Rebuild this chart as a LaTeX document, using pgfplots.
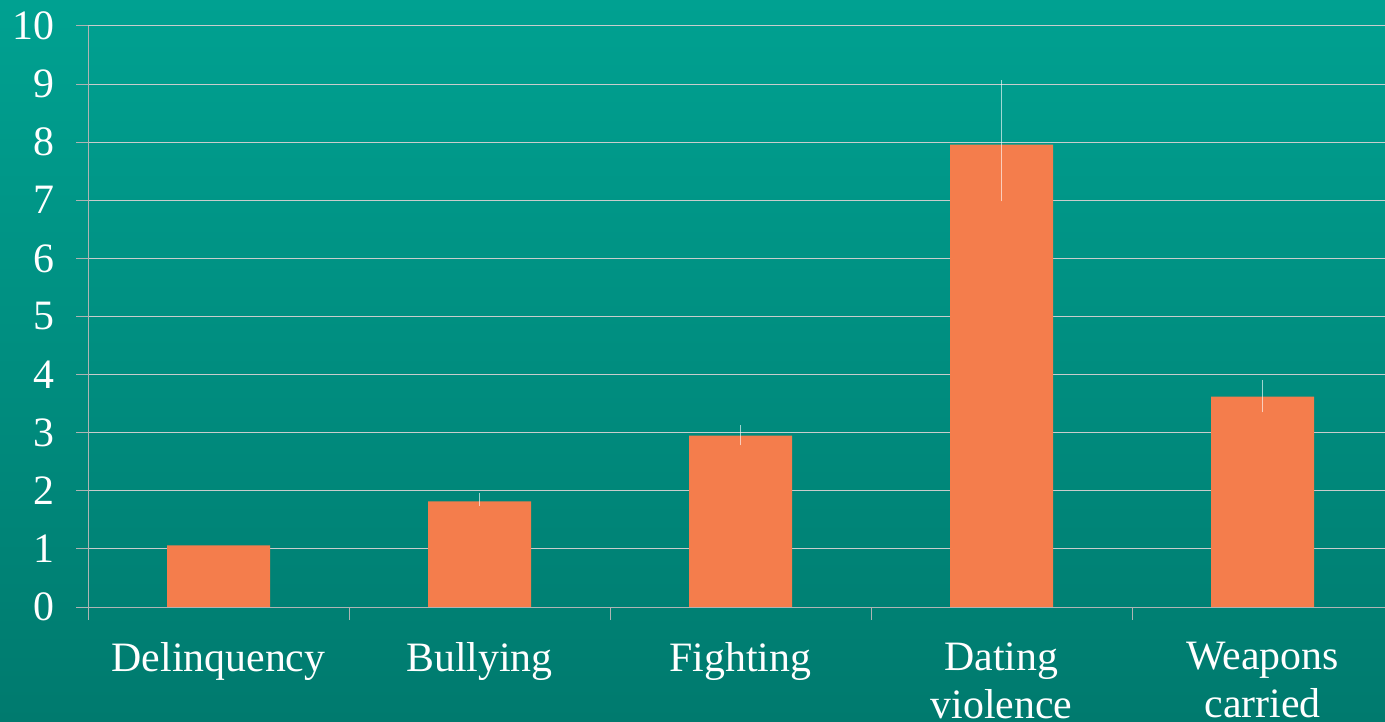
\documentclass[border=0pt]{standalone}
\usepackage{pgfplots}
\pgfplotsset{compat=1.18}
\usepackage{pgfplotstable}
\usepackage{fontspec}
\setmainfont{Liberation Serif}
\definecolor{bgtop}{RGB}{0,161,145}
\definecolor{bgbot}{RGB}{0,122,110}
\definecolor{barc}{RGB}{244,125,76}
\definecolor{gridc}{RGB}{200,205,205}
\definecolor{axc}{RGB}{175,180,180}
\pgfplotstableread{
x y ep em
0 1.06 0 0
1 1.82 0.15 0.08
2 2.95 0.18 0.17
3 7.96 1.11 0.98
4 3.62 0.29 0.27
}\data
\begin{document}
\begin{tikzpicture}
\path[use as bounding box] (0,0) rectangle (1385bp,722bp);
\clip (0,0) rectangle (1385bp,722bp);
\shade[top color=bgtop, bottom color=bgbot] (0,0) rectangle (1385bp,722bp);
\begin{axis}[
  at={(88bp,115bp)}, anchor=south west,
  scale only axis, width=1305bp, height=581bp,
  xmin=-0.5, xmax=4.5, ymin=0, ymax=10,
  axis lines=left,
  axis line style={-, color=axc, line width=1bp},
  tick align=outside,
  xtick={0,...,4},
  xticklabels={Delinquency, Bullying, Fighting, {Dating\\violence}, {Weapons\\carried}},
  minor xtick={-0.5,0.5,...,4.5},
  major x tick style={draw=none},
  minor tick length=13bp,
  ytick={0,...,10},
  major tick length=12bp,
  tick style={color=axc, line width=1bp},
  ymajorgrids,
  major grid style={color=gridc, line width=1bp},
  /pgf/number format/assume math mode=true,
  tick label style={font=\fontsize{42}{48}\selectfont, text=white},
  xticklabel style={align=center, yshift=-20bp},
  yticklabel style={xshift=-18bp},
  ybar, bar width=103bp,
]
\addplot[fill=barc, draw=none,
  error bars/.cd, y dir=both, y explicit,
  error mark=none,
  error bar style={white, opacity=0.6, line width=1.8bp}]
  table[x=x, y=y, y error plus=ep, y error minus=em] {\data};
\end{axis}
\end{tikzpicture}
\end{document}
